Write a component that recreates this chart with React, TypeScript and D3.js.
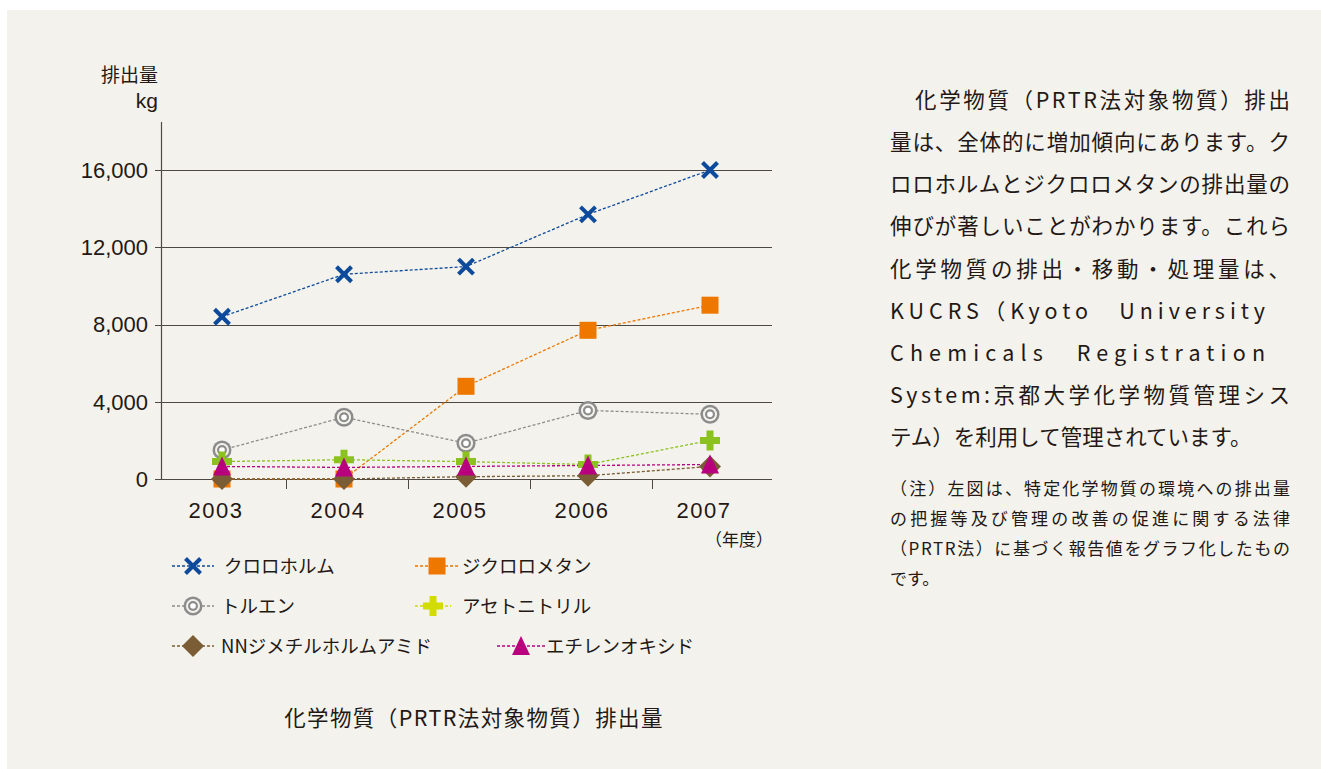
import React from "react";
import * as d3 from "d3";

const years = ["2003", "2004", "2005", "2006", "2007"];
const chloroform = [8400, 10600, 11000, 13700, 16000];
const dichloromethane = [0, 0, 4800, 7700, 9000];
const toluene = [1500, 3200, 1850, 3550, 3350];
const acetonitrile = [900, 1000, 900, 750, 2000];
const dmf = [0, 0, 120, 170, 650];
const ethyleneOxide = [650, 600, 650, 700, 750];
const yTicks = [0, 4000, 8000, 12000, 16000];

const seriesNames = ["クロロホルム", "ジクロロメタン", "トルエン", "アセトニトリル", "NNジメチルホルムアミド", "エチレンオキシド"];

const paragraph = [
  "化学物質（PRTR法対象物質）排出",
  "量は、全体的に増加傾向にあります。ク",
  "ロロホルムとジクロロメタンの排出量の",
  "伸びが著しいことがわかります。これら",
  "化学物質の排出・移動・処理量は、",
  "KUCRS（Kyoto　University",
  "Chemicals　Registration",
  "System:京都大学化学物質管理シス",
  "テム）を利用して管理されています。",
];
const note = [
  "（注）左図は、特定化学物質の環境への排出量",
  "の把握等及び管理の改善の促進に関する法律",
  "（PRTR法）に基づく報告値をグラフ化したもの",
  "です。",
];

const FONT = "'Noto Sans CJK JP', 'Noto Sans', sans-serif";
const NUMFONT = "'Liberation Sans', 'Noto Sans', sans-serif";
const TXT = "#231815";

type MarkerKind = "x" | "square" | "circle" | "plus" | "diamond" | "triangle";

function Marker({ kind, x, y, color }: { kind: MarkerKind; x: number; y: number; color: string }) {
  switch (kind) {
    case "x":
      return (
        <g stroke={color} strokeWidth={4} strokeLinecap="butt">
          <line x1={x - 7.5} y1={y - 7.5} x2={x + 7.5} y2={y + 7.5} />
          <line x1={x - 7.5} y1={y + 7.5} x2={x + 7.5} y2={y - 7.5} />
        </g>
      );
    case "square":
      return <rect x={x - 8.5} y={y - 8.5} width={17} height={17} fill={color} />;
    case "circle":
      return (
        <g>
          <circle cx={x} cy={y} r={9.5} fill={color} />
          <circle cx={x} cy={y} r={7} fill="#f3f2ec" />
          <circle cx={x} cy={y} r={5} fill={color} />
          <circle cx={x} cy={y} r={2.8} fill="#ffffff" />
        </g>
      );
    case "plus":
      return (
        <path
          d={`M${x - 3.5},${y - 10}h7v6.5h6.5v7h-6.5v6.5h-7v-6.5h-6.5v-7h6.5z`}
          fill={color}
        />
      );
    case "diamond":
      return <path d={`M${x},${y - 11}L${x + 11},${y}L${x},${y + 11}L${x - 11},${y}z`} fill={color} />;
    case "triangle":
      return <path d={`M${x},${y - 10}L${x + 9},${y + 9}L${x - 9},${y + 9}z`} fill={color} />;
  }
  return null;
}

const series: { name: string; values: number[]; color: string; legendColor: string; kind: MarkerKind }[] = [
  { name: seriesNames[0], values: chloroform, color: "#0d4a9c", legendColor: "#0d4a9c", kind: "x" },
  { name: seriesNames[1], values: dichloromethane, color: "#ee7700", legendColor: "#ee7700", kind: "square" },
  { name: seriesNames[2], values: toluene, color: "#8c8c8c", legendColor: "#8c8c8c", kind: "circle" },
  { name: seriesNames[3], values: acetonitrile, color: "#8cc21f", legendColor: "#d2dc00", kind: "plus" },
  { name: seriesNames[4], values: dmf, color: "#7a5d34", legendColor: "#7a5d34", kind: "diamond" },
  { name: seriesNames[5], values: ethyleneOxide, color: "#b8007e", legendColor: "#b8007e", kind: "triangle" },
];

export default function App() {
  const W = 1321;
  const H = 769;
  const axisX = 161;
  const gridRight = 772;
  const x = d3.scalePoint<string>().domain(years).range([222, 710]);
  const y = d3.scaleLinear().domain([0, 16000]).range([479, 170]);
  const step = x.step();
  const line = d3
    .line<number>()
    .x((_, i) => x(years[i]) as number)
    .y((d) => y(d));
  const fmt = d3.format(",");

  const legendPos = [
    { lx: 172, mx: 193, tx: 224, y: 566 },
    { lx: 415, mx: 437, tx: 462, y: 566 },
    { lx: 172, mx: 193, tx: 221, y: 606 },
    { lx: 415, mx: 433, tx: 462, y: 606 },
    { lx: 172, mx: 193, tx: 221, y: 646 },
    { lx: 497, mx: 521, tx: 546, y: 646 },
  ];

  return (
    <svg
      width={W}
      height={H}
      style={{ position: "absolute", left: 0, top: 0, display: "block" }}
    >
      <rect x={0} y={0} width={W} height={H} fill="#ffffff" />
      <rect x={7} y={10} width={W - 7} height={H - 10} fill="#f3f2ec" />

      {/* y axis title */}
      <text x={158} y={75} dy="0.36em" textAnchor="end" fontFamily={FONT} fontSize={19} fill={TXT}>
        排出量
      </text>
      <text x={158} y={100} dy="0.36em" textAnchor="end" fontFamily={NUMFONT} fontSize={21} fill={TXT}>
        kg
      </text>

      {/* grid + y ticks */}
      {yTicks.map((t) => (
        <g key={t}>
          <line x1={axisX - 6} x2={gridRight} y1={Math.round(y(t)) + 0.5} y2={Math.round(y(t)) + 0.5} stroke="#4f4946" strokeWidth={1.2} />
          <text
            x={148}
            y={y(t)}
            dy="0.36em"
            textAnchor="end"
            fontFamily={NUMFONT}
            fontSize={22}
            fill={TXT}
          >
            {fmt(t)}
          </text>
        </g>
      ))}
      <line x1={axisX + 0.5} x2={axisX + 0.5} y1={122} y2={480} stroke="#4f4946" strokeWidth={1.2} />

      {/* x ticks */}
      {years.slice(0, -1).map((yr) => (
        <line
          key={"t" + yr}
          x1={Math.round((x(yr) as number) + step / 2 + 3) + 0.5}
          x2={Math.round((x(yr) as number) + step / 2 + 3) + 0.5}
          y1={479}
          y2={489}
          stroke="#4f4946"
          strokeWidth={1}
        />
      ))}
      {years.map((yr) => (
        <text
          key={"l" + yr}
          x={(x(yr) as number) - 6}
          y={510}
          dy="0.36em"
          textAnchor="middle"
          fontFamily={NUMFONT}
          fontSize={22}
          letterSpacing={1.5}
          fill={TXT}
        >
          {yr}
        </text>
      ))}
      <text x={739} y={540} dy="0.36em" textAnchor="middle" fontFamily={FONT} fontSize={17} fill={TXT}>
        （年度）
      </text>

      {/* series lines */}
      {series.map((s) => (
        <path
          key={"p" + s.name}
          d={line(s.values) || ""}
          fill="none"
          stroke={s.color}
          strokeWidth={1.3}
          strokeDasharray="3,2"
        />
      ))}
      {/* markers */}
      {series.map((s) => (
        <g key={"m" + s.name}>
          {s.values.map((v, i) => (
            <Marker key={i} kind={s.kind} x={x(years[i]) as number} y={y(v)} color={s.color} />
          ))}
        </g>
      ))}

      {/* legend */}
      {series.map((s, i) => {
        const p = legendPos[i];
        return (
          <g key={"lg" + s.name}>
            <line
              x1={p.lx}
              x2={p.lx + 2 * (p.mx - p.lx)}
              y1={p.y}
              y2={p.y}
              stroke={s.legendColor}
              strokeWidth={1.3}
              strokeDasharray="3,2"
            />
            <Marker kind={s.kind} x={p.mx} y={p.y} color={s.legendColor} />
            <text x={p.tx} y={p.y} dy="0.36em" fontFamily={FONT} fontSize={18.5} fill={TXT}>
              {s.name}
            </text>
          </g>
        );
      })}

      {/* chart title */}
      <text x={474} y={718} dy="0.36em" textAnchor="middle" fontFamily={FONT} fontSize={21.5} letterSpacing={1.4} fill={TXT}>
        化学物質（PRTR法対象物質）排出量
      </text>

      {/* paragraph */}
      {paragraph.map((ln, i) => {
        const left = i === 0 ? 915 : 890;
        const right = i === 5 || i === 6 ? 1265 : 1290;
        const justify = i !== paragraph.length - 1;
        return (
          <text
            key={"pg" + i}
            x={left}
            y={100 + i * 42.2}
            dy="0.36em"
            fontFamily={FONT}
            fontSize={21.5}
            fill={TXT}
            textLength={justify ? right - left : undefined}
            lengthAdjust={justify ? "spacing" : undefined}
          >
            {ln}
          </text>
        );
      })}
      {note.map((ln, i) => (
        <text
          key={"nt" + i}
          x={890}
          y={489 + i * 30}
          dy="0.36em"
          fontFamily={FONT}
          fontSize={17}
          fill={TXT}
          textLength={i < 3 ? 400 : undefined}
          lengthAdjust={i < 3 ? "spacing" : undefined}
        >
          {ln}
        </text>
      ))}
    </svg>
  );
}
